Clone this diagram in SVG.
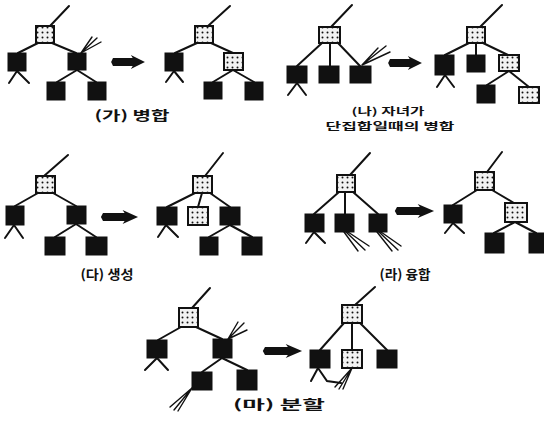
<svg xmlns="http://www.w3.org/2000/svg" width="544" height="425" viewBox="0 0 544 425">
<defs>
<pattern id="dots" width="5" height="5" patternUnits="userSpaceOnUse">
<rect width="5" height="5" fill="#f2f2f2"/>
<circle cx="2.5" cy="2.5" r="1" fill="#111"/>
</pattern>
<style>
.blk{fill:#111;stroke:#111;stroke-width:1}
.dot{fill:url(#dots);stroke:#111;stroke-width:2}
.ln{stroke:#111;stroke-width:2;fill:none;stroke-linecap:round}
.fan{stroke:#111;stroke-width:1.4;fill:none;stroke-linecap:round}
.arw{fill:#111}
.lbl{font-family:"Noto Sans CJK KR","Noto Sans",sans-serif;font-weight:bold;font-size:13px;fill:#111;text-anchor:middle}
.lbs{font-size:10px}
</style>
<path id="bigarrow" d="M0,-4 L21,-4 L19,-7 L34,0 L19,7 L21,4 L0,4 L-2,0 Z"/>
</defs>
<rect width="544" height="425" fill="#fff"/>

<g id="connectors">
<path class="ln" d="M50,26 L69,6 M38,43 L18,53 M52,43 L76,53 M17,71 L9,83 M17,71 L29,83 M77,70 L57,82 M77,70 L96,82"/>
<path class="fan" d="M81,53 L92,37 M81,53 L97,38 M81,53 L101,42"/>
<path class="ln" d="M208,26 L230,6 M197,43 L175,53 M211,43 L233,53 M174,71 L166,82 M174,71 L183,82 M233,70 L213,82 M233,70 L254,82"/>
<path class="ln" d="M331,27 L352,5 M322,43 L297,66 M330,43 L330,66 M338,43 L360,66 M297,83 L288,95 M297,83 L306,95"/>
<path class="fan" d="M362,65 L378,48 M362,65 L386,46 M362,65 L390,52"/>
<path class="ln" d="M480,27 L502,5 M469,43 L445,55 M476,43 L476,55 M483,43 L508,55 M445,75 L437,87 M445,75 L454,87 M509,71 L487,85 M509,71 L529,87"/>
<path class="ln" d="M44,176 L68,155 M38,193 L15,206 M53,193 L76,206 M14,225 L5,238 M14,225 L23,238 M76,224 L55,237 M76,224 L96,237"/>
<path class="ln" d="M205,176 L223,153 M195,193 L167,207 M202,193 L198,207 M210,193 L230,207 M166,225 L158,237 M166,225 L178,237 M230,225 L209,237 M230,225 L252,237"/>
<path class="ln" d="M350,175 L370,153 M339,192 L314,214 M345,192 L345,214 M353,192 L378,214 M314,232 L306,243 M314,232 L325,243"/>
<path class="fan" d="M344,232 L358,251 M346,232 L365,250 M348,232 L369,246 M377,232 L392,251 M379,232 L398,250 M381,232 L401,246"/>
<path class="ln" d="M487,172 L502,152 M477,190 L453,205 M492,190 L514,203 M453,223 L445,233 M453,223 L464,233 M515,222 L494,233 M515,222 L536,233"/>
<path class="ln" d="M192,308 L210,288 M181,327 L158,340 M196,327 L222,339 M157,358 L145,370 M157,358 L168,370 M222,358 L202,372 M222,358 L247,370"/>
<path class="fan" d="M228,339 L238,322 M228,339 L244,323 M228,339 L247,330 M192,388 L170,407 M192,388 L174,410 M192,388 L178,411"/>
<path class="ln" d="M355,305 L375,287 M344,323 L320,350 M352,323 L352,350 M360,323 L387,350 M318,368 L311,381 M318,368 L327,381 L341,383"/>
<path class="fan" d="M352,368 L335,387 M352,368 L339,389 M352,368 L343,389"/>
</g>

<g id="arrows">
<use href="#bigarrow" class="arw" transform="translate(113,62) scale(0.94,1)"/>
<use href="#bigarrow" class="arw" transform="translate(390,63) scale(0.94,1)"/>
<use href="#bigarrow" class="arw" transform="translate(103,217) scale(1.03,1)"/>
<use href="#bigarrow" class="arw" transform="translate(397,211) scale(1.09,1)"/>
<use href="#bigarrow" class="arw" transform="translate(265,351) scale(1.09,1)"/>
</g>

<g id="panelA">
<g id="a1-root"><rect class="dot" x="36" y="26" width="18" height="17"/></g>
<g id="a1-l"><rect class="blk" x="8" y="53" width="18" height="18"/></g>
<g id="a1-r"><rect class="blk" x="68" y="53" width="18" height="17"/></g>
<g id="a1-rl"><rect class="blk" x="47" y="82" width="18" height="18"/></g>
<g id="a1-rr"><rect class="blk" x="88" y="82" width="18" height="18"/></g>
<g id="a2-root"><rect class="dot" x="195" y="26" width="18" height="17"/></g>
<g id="a2-l"><rect class="blk" x="165" y="53" width="18" height="18"/></g>
<g id="a2-r"><rect class="dot" x="224" y="53" width="19" height="17"/></g>
<g id="a2-rl"><rect class="blk" x="204" y="82" width="18" height="17"/></g>
<g id="a2-rr"><rect class="blk" x="245" y="82" width="18" height="18"/></g>
<text class="lbl" x="132" y="120" textLength="75" lengthAdjust="spacingAndGlyphs">(가) 병합</text>
</g>

<g id="panelB">
<g id="b1-root"><rect class="dot" x="319" y="27" width="21" height="16"/></g>
<g id="b1-c1"><rect class="blk" x="287" y="66" width="20" height="17"/></g>
<g id="b1-c2"><rect class="blk" x="319" y="66" width="20" height="17"/></g>
<g id="b1-c3"><rect class="blk" x="350" y="66" width="21" height="17"/></g>
<g id="b2-root"><rect class="dot" x="467" y="27" width="18" height="16"/></g>
<g id="b2-c1"><rect class="blk" x="435" y="55" width="19" height="20"/></g>
<g id="b2-c2"><rect class="blk" x="467" y="55" width="18" height="17"/></g>
<g id="b2-c3"><rect class="dot" x="499" y="55" width="20" height="16"/></g>
<g id="b2-c3l"><rect class="blk" x="477" y="85" width="18" height="18"/></g>
<g id="b2-c3r"><rect class="dot" x="519" y="87" width="20" height="16"/></g>
<text class="lbl lbs" x="388" y="115" textLength="73" lengthAdjust="spacingAndGlyphs">(나) 자녀가</text>
<text class="lbl lbs" x="390" y="130" textLength="129" lengthAdjust="spacingAndGlyphs">단집합일때의 병합</text>
</g>

<g id="panelC">
<g id="c1-root"><rect class="dot" x="36" y="176" width="19" height="17"/></g>
<g id="c1-l"><rect class="blk" x="6" y="206" width="18" height="19"/></g>
<g id="c1-r"><rect class="blk" x="67" y="206" width="19" height="18"/></g>
<g id="c1-rl"><rect class="blk" x="45" y="237" width="20" height="18"/></g>
<g id="c1-rr"><rect class="blk" x="86" y="237" width="21" height="18"/></g>
<g id="c2-root"><rect class="dot" x="193" y="176" width="19" height="17"/></g>
<g id="c2-c1"><rect class="blk" x="157" y="207" width="20" height="18"/></g>
<g id="c2-c2"><rect class="dot" x="188" y="207" width="20" height="18"/></g>
<g id="c2-c3"><rect class="blk" x="220" y="207" width="20" height="18"/></g>
<g id="c2-c3l"><rect class="blk" x="200" y="237" width="18" height="18"/></g>
<g id="c2-c3r"><rect class="blk" x="242" y="237" width="20" height="18"/></g>
<text class="lbl" x="107" y="279" textLength="53" lengthAdjust="spacingAndGlyphs">(다) 생성</text>
</g>

<g id="panelD">
<g id="d1-root"><rect class="dot" x="337" y="175" width="18" height="17"/></g>
<g id="d1-c1"><rect class="blk" x="305" y="214" width="19" height="18"/></g>
<g id="d1-c2"><rect class="blk" x="335" y="214" width="19" height="18"/></g>
<g id="d1-c3"><rect class="blk" x="369" y="214" width="18" height="18"/></g>
<g id="d2-root"><rect class="dot" x="475" y="172" width="19" height="18"/></g>
<g id="d2-l"><rect class="blk" x="444" y="205" width="18" height="18"/></g>
<g id="d2-r"><rect class="dot" x="505" y="203" width="22" height="19"/></g>
<g id="d2-rl"><rect class="blk" x="485" y="233" width="19" height="20"/></g>
<g id="d2-rr"><rect class="blk" x="529" y="233" width="17" height="20"/></g>
<text class="lbl" x="405" y="279" textLength="51" lengthAdjust="spacingAndGlyphs">(라) 융합</text>
</g>

<g id="panelE">
<g id="e1-root"><rect class="dot" x="179" y="308" width="19" height="19"/></g>
<g id="e1-l"><rect class="blk" x="147" y="340" width="20" height="18"/></g>
<g id="e1-r"><rect class="blk" x="213" y="339" width="19" height="19"/></g>
<g id="e1-rl"><rect class="blk" x="192" y="372" width="20" height="18"/></g>
<g id="e1-rr"><rect class="blk" x="237" y="370" width="20" height="20"/></g>
<g id="e2-root"><rect class="dot" x="342" y="305" width="20" height="18"/></g>
<g id="e2-c1"><rect class="blk" x="310" y="350" width="20" height="18"/></g>
<g id="e2-c2"><rect class="dot" x="342" y="350" width="20" height="18"/></g>
<g id="e2-c3"><rect class="blk" x="377" y="350" width="20" height="18"/></g>
<text class="lbl" x="279" y="409" textLength="92" lengthAdjust="spacingAndGlyphs">(마) 분할</text>
</g>
</svg>
